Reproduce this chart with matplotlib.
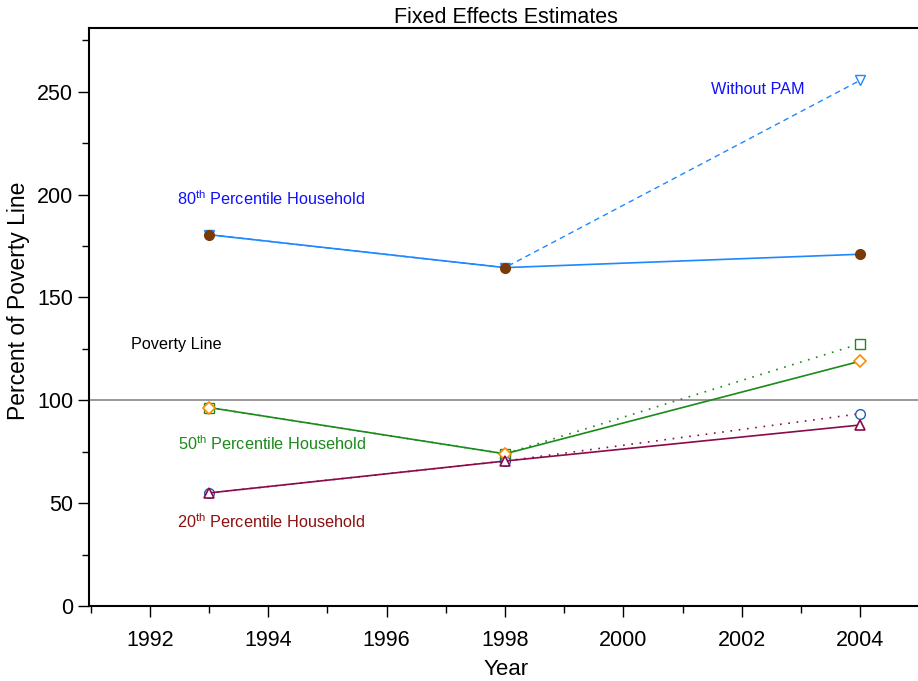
import matplotlib
matplotlib.use("Agg")
import matplotlib.pyplot as plt
from matplotlib.ticker import MultipleLocator

plt.rcParams['font.family'] = ['Liberation Sans', 'DejaVu Sans']

years = [1993, 1998, 2004]
p80 = [180.5, 164.5, 171.0]
p80_nopam = [180.5, 164.5, 255.5]
p50 = [96.5, 74.0, 119.0]
p50_nopam = [96.5, 74.0, 127.5]
p20 = [55.0, 70.5, 88.0]
p20_nopam = [55.0, 70.5, 93.5]
poverty = 100

fig = plt.figure(figsize=(9.18, 6.81), dpi=100)
ax = fig.add_axes([0.097, 0.110, 0.9075, 0.849])

blue = '#1E88FF'
brown = '#7A3A08'
green = '#1A8A1A'
orange = '#FF8C00'
maroon = '#8B0A4A'
cblue = '#1F5FAF'

ax.axhline(poverty, color='#888888', lw=1.2, zorder=1)

# 80th
ax.plot(years, p80_nopam, color=blue, lw=1, ls=(0, (4, 3)), marker='v', ms=7,
        mfc='white', mec=blue, mew=1, zorder=2)
ax.plot(years, p80, color=blue, lw=1.2, marker='o', ms=7, mfc=brown, mec=brown, zorder=3)

# 50th
ax.plot(years, p50_nopam, color=green, lw=1.2, ls=(0, (1, 4)), marker='s', ms=7,
        mfc='white', mec=green, mew=1, zorder=2)
ax.plot(years, p50, color=green, lw=1.2, marker='D', ms=6, mfc='white', mec=orange, mew=1.2, zorder=3)

# 20th
ax.plot(years, p20_nopam, color=maroon, lw=1.2, ls=(0, (1, 4)), marker='o', ms=7,
        mfc='white', mec=cblue, mew=1, zorder=2)
ax.plot(years, p20, color=maroon, lw=1.2, marker='^', ms=7, mfc='white', mec=maroon, mew=1.2, zorder=3)

fs = 11.7
ax.text(1992.46, 198, r'80$^{\mathregular{th}}$ Percentile Household', color='#1010FF', fontsize=fs, va='center')
ax.text(2001.49, 251, 'Without PAM', color='#1010FF', fontsize=fs, va='center')
ax.text(1991.68, 127, 'Poverty Line', color='black', fontsize=fs, va='center')
ax.text(1992.47, 79, r'50$^{\mathregular{th}}$ Percentile Household', color=green, fontsize=fs, va='center')
ax.text(1992.46, 41, r'20$^{\mathregular{th}}$ Percentile Household', color='#8B1010', fontsize=fs, va='center')

ax.set_xlim(1990.97, 2005.05)
ax.set_ylim(0, 281)
ax.xaxis.set_major_locator(MultipleLocator(2))
ax.xaxis.set_minor_locator(MultipleLocator(1))
ax.yaxis.set_major_locator(MultipleLocator(50))
ax.yaxis.set_minor_locator(MultipleLocator(25))
ax.tick_params(axis='both', which='major', direction='out', length=8, width=1, labelsize=15.5)
ax.tick_params(axis='both', which='minor', direction='out', length=5, width=1)
ax.tick_params(axis='x', pad=9)
ax.spines['right'].set_visible(False)
for s in ['left', 'bottom', 'top']:
    ax.spines[s].set_linewidth(1.5)

ax.set_xlabel('Year', fontsize=16, labelpad=6)
ax.set_ylabel('Percent of Poverty Line', fontsize=16.5)
ax.yaxis.set_label_coords(-0.071, 0.528)
ax.set_title('Fixed Effects Estimates', fontsize=15.5, pad=2)

fig.savefig('out.png', dpi=100)
